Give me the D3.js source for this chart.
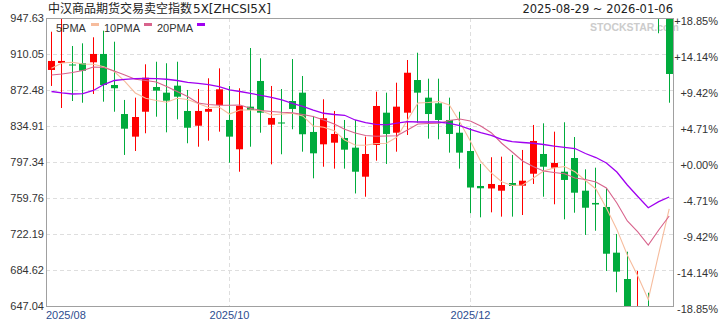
<!DOCTYPE html>
<html>
<head>
<meta charset="utf-8">
<script src="https://cdn.jsdelivr.net/npm/d3@7"></script>
<style>
  body { margin: 0; background: #fff; }
  svg { display: block; }
</style>
</head>
<body>
<script>
const titleCjk = "中汉商品期货交易卖空指数"
const titleCode = "5X[ZHCSI5X]"
const dateRange = "2025-08-29 ~ 2026-01-06"

// daily candles
const opens = [893.4, 900.7, 899.1, 900.4, 901.4, 910.1, 877.7, 847.4, 823.8, 849.8, 875.6, 869.7, 877.0, 850.6, 835.2, 849.8, 856.8, 841.2, 810.6, 855.1, 881.9, 836.3, 838.6, 861.0, 869.7, 828.7, 815.8, 817.5, 822.4, 812.3, 782.0, 815.1, 848.8, 827.9, 848.8, 882.9, 864.5, 858.6, 841.2, 827.9, 808.8, 772.3, 769.7, 767.4, 775.4, 772.6, 785.1, 805.7, 791.4, 787.2, 801.5, 767.4, 754.6, 750.4, 702.7, 675.2, 612.0, 641.0, 978.0, 958.0]
const highs = [933.3, 951.0, 918.4, 921.2, 927.5, 934.4, 922.9, 862.1, 864.5, 899.3, 902.0, 900.4, 902.0, 872.5, 873.5, 884.7, 895.1, 876.7, 874.3, 916.3, 905.6, 876.7, 873.5, 904.8, 887.1, 845.4, 862.8, 850.6, 841.2, 841.2, 823.8, 870.7, 869.7, 880.1, 903.8, 911.4, 884.3, 884.3, 864.5, 849.8, 832.8, 795.3, 802.3, 802.9, 804.7, 809.9, 836.0, 837.7, 829.0, 838.8, 823.4, 789.7, 791.4, 769.9, 722.2, 703.7, 683.6, 660.9, 985.0, 962.0]
const lows = [876.7, 853.7, 861.0, 859.2, 868.3, 860.3, 849.8, 804.7, 808.8, 827.3, 844.6, 828.3, 841.9, 816.9, 813.3, 819.6, 829.0, 796.6, 787.2, 813.3, 827.9, 794.9, 805.4, 831.5, 808.1, 780.3, 792.4, 790.4, 790.4, 764.5, 761.1, 798.7, 795.3, 808.1, 825.5, 838.4, 821.7, 821.0, 807.1, 790.4, 743.8, 739.6, 744.8, 740.3, 740.3, 742.0, 774.4, 761.1, 753.2, 737.5, 744.4, 721.2, 725.6, 683.6, 661.4, 602.0, 605.0, 622.0, 931.7, 859.2]
const closes = [902.8, 902.8, 898.1, 892.6, 910.1, 877.7, 874.3, 832.1, 844.3, 885.3, 871.8, 861.3, 865.5, 833.1, 850.6, 852.7, 873.2, 823.8, 855.8, 851.6, 848.8, 843.3, 837.5, 852.7, 826.3, 806.4, 843.0, 826.6, 810.2, 787.2, 805.7, 855.8, 826.6, 855.1, 890.5, 869.7, 847.4, 841.2, 826.6, 807.1, 770.7, 769.9, 774.4, 773.3, 772.3, 777.8, 819.3, 792.4, 796.3, 778.6, 765.3, 749.6, 753.0, 701.6, 682.9, 615.0, 640.0, 630.0, 952.0, 889.2]

// moving averages as drawn
const ma5 = [895.1, 900.7, 901.4, 899.6, 899.3, 896.8, 891.8, 881.4, 869.4, 863.8, 861.5, 859.7, 863.8, 862.6, 858.4, 854.2, 854.7, 847.4, 851.6, 851.6, 851.1, 846.4, 847.4, 848.2, 845.4, 834.9, 833.6, 830.0, 820.3, 815.1, 814.8, 816.7, 816.9, 823.4, 841.2, 858.9, 859.4, 860.5, 856.8, 839.1, 819.3, 797.9, 785.9, 776.8, 772.8, 773.3, 780.3, 788.0, 791.1, 792.6, 787.2, 778.0, 769.2, 749.3, 727.0, 700.3, 678.4, 653.8, 701.8, 748.3]
const ma10 = [888.1, 889.2, 890.8, 892.8, 896.5, 896.0, 892.3, 888.1, 883.7, 882.4, 880.8, 876.1, 870.9, 865.7, 858.9, 857.4, 856.5, 856.5, 856.8, 853.4, 851.1, 850.1, 849.2, 848.8, 846.9, 844.8, 841.2, 837.0, 831.5, 827.6, 825.0, 824.2, 824.5, 824.8, 830.7, 837.0, 837.5, 837.7, 840.7, 842.2, 840.1, 834.9, 827.9, 816.9, 807.8, 798.4, 792.6, 788.0, 786.4, 785.1, 780.6, 779.1, 776.5, 770.2, 754.6, 735.8, 724.3, 710.7, 726.4, 741.0]
const ma20 = [870.9, 869.4, 868.3, 868.8, 872.0, 878.2, 882.4, 883.5, 884.3, 884.5, 884.3, 883.7, 882.4, 880.5, 879.3, 878.2, 875.9, 872.5, 870.9, 869.0, 866.8, 864.9, 862.1, 858.6, 855.3, 851.6, 848.2, 846.9, 846.1, 841.2, 838.4, 836.5, 836.0, 838.0, 839.4, 839.1, 839.1, 839.1, 837.7, 835.4, 831.3, 827.9, 825.0, 821.0, 818.5, 817.7, 816.9, 815.6, 814.0, 812.7, 811.4, 806.2, 802.0, 796.3, 786.9, 773.3, 761.3, 749.6, 755.9, 760.8]

const yTicks = [947.63, 910.05, 872.48, 834.91, 797.34, 759.76, 722.19, 684.62, 647.04]
const pctLabels = ["+18.85%", "+14.14%", "+9.42%", "+4.71%", "+0.00%", "-4.71%", "-9.42%", "-14.14%", "-18.85%"]
const monthLabels = ["2025/08", "2025/10", "2025/12"]
const monthIdx = [0, 17, 40]
const maNames = ["5PMA", "10PMA", "20PMA"]
const maColors = ["#f6bc9d", "#d8638c", "#a000f0"]

const width = 720, height = 320
const plotL = 46, plotR = 673, plotT = 18, plotB = 306
const font = "'Liberation Sans', Arial, sans-serif"

const svg = d3.select("body").append("svg")
  .attr("width", width)
  .attr("height", height)

const idx = d3.range(closes.length)
const x = d3.scalePoint().domain(idx).range([51.5, 669.2])
const y = d3.scaleLinear().domain([yTicks[yTicks.length - 1], yTicks[0]]).range([plotB, plotT]).clamp(true)
const px = (i) => Math.round(x(i) - 0.5) + 0.5

// grid
svg.append("g")
  .selectAll("line")
  .data(yTicks.slice(1, -1))
  .enter().append("line")
  .attr("x1", plotL).attr("x2", plotR)
  .attr("y1", (d) => Math.round(y(d)) + 0.5)
  .attr("y2", (d) => Math.round(y(d)) + 0.5)
  .attr("stroke", "#dedede")
  .attr("stroke-dasharray", "4,3")

svg.append("g")
  .selectAll("line")
  .data(monthIdx.slice(1))
  .enter().append("line")
  .attr("x1", (d) => px(d)).attr("x2", (d) => px(d))
  .attr("y1", plotT).attr("y2", plotB)
  .attr("stroke", "#dedede")
  .attr("stroke-dasharray", "4,3")

// watermark
svg.append("text")
  .attr("x", 590).attr("y", 31)
  .attr("style", "font-family:" + font + "; font-size:10.5px; font-weight:bold;")
  .attr("fill", "#cccccc")
  .text("STOCKSTAR.com")

// candles
const candles = svg.append("g")
  .selectAll("g")
  .data(idx)
  .enter().append("g")
  .attr("class", "candle")

const colour = (i) => closes[i] > opens[i] ? "#ff0000" : "#00ab3c"

candles.append("line")
  .attr("x1", (i) => px(i)).attr("x2", (i) => px(i))
  .attr("y1", (i) => y(highs[i]))
  .attr("y2", (i) => y(lows[i]))
  .attr("stroke", colour)

candles.append("rect")
  .attr("x", (i) => px(i) - 3.5)
  .attr("width", 7)
  .attr("y", (i) => Math.min(y(opens[i]), y(closes[i])))
  .attr("height", (i) => Math.max(1, Math.abs(y(opens[i]) - y(closes[i]))))
  .attr("fill", colour)

// moving average lines
const line = d3.line().x((d, i) => x(i)).y((d) => y(d))
const mas = [ma5, ma10, ma20]
mas.forEach((m, k) => {
  svg.append("path")
    .datum(m)
    .attr("d", line)
    .attr("fill", "none")
    .attr("stroke", maColors[k])
    .attr("stroke-width", k == 2 ? 1.3 : 1.1)
})

// frame
svg.append("rect")
  .attr("x", plotL + 0.5).attr("y", plotT + 0.5)
  .attr("width", plotR - plotL).attr("height", plotB - plotT)
  .attr("fill", "none")
  .attr("stroke", "#a0a0a0")

// y labels
svg.append("g")
  .selectAll("text")
  .data(yTicks)
  .enter().append("text")
  .attr("x", 44)
  .attr("y", (d) => y(d) + 4)
  .attr("text-anchor", "end")
  .attr("style", "font-family:" + font + "; font-size:11px;")
  .attr("fill", "#333")
  .text((d) => d.toFixed(2))

svg.append("g")
  .selectAll("text")
  .data(yTicks)
  .enter().append("text")
  .attr("x", 718)
  .attr("y", (d) => y(d) + 7)
  .attr("text-anchor", "end")
  .attr("style", "font-family:" + font + "; font-size:11px;")
  .attr("fill", "#333")
  .text((d, i) => pctLabels[i])

// month labels
svg.append("g")
  .selectAll("text")
  .data(monthIdx)
  .enter().append("text")
  .attr("x", (d, i) => i == 0 ? plotL : px(d))
  .attr("y", 319)
  .attr("text-anchor", (d, i) => i == 0 ? "start" : "middle")
  .attr("style", "font-family:" + font + "; font-size:11px;")
  .attr("fill", "#2d4d8f")
  .text((d, i) => monthLabels[i])

// legend
const legendX = [56, 104, 157]
const swatchX = [91, 144, 197]
maNames.forEach((name, k) => {
  svg.append("text")
    .attr("x", legendX[k]).attr("y", 31.5)
    .attr("style", "font-family:" + font + "; font-size:11px;")
    .attr("fill", "#333")
    .text(name)
  svg.append("rect")
    .attr("x", swatchX[k]).attr("y", 23)
    .attr("width", 8).attr("height", 3)
    .attr("fill", maColors[k])
})

// header
const head = svg.append("text")
  .attr("x", 48).attr("y", 12.5)
  .attr("fill", "#222")
head.append("tspan")
  .attr("style", "font-family:'Noto Sans CJK SC', sans-serif; font-size:12px;")
  .text(titleCjk)
head.append("tspan")
  .attr("dx", 1)
  .attr("style", "font-family:'DejaVu Sans', sans-serif; font-size:12px;")
  .text(titleCode)

svg.append("text")
  .attr("x", 673).attr("y", 12.5)
  .attr("text-anchor", "end")
  .attr("style", "font-family:'DejaVu Sans', sans-serif; font-size:11.5px;")
  .attr("fill", "#222")
  .text(dateRange)
</script>
</body>
</html>
